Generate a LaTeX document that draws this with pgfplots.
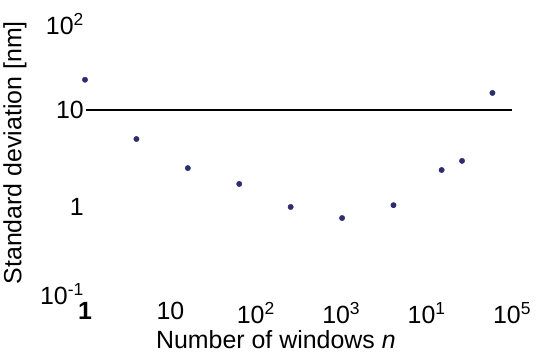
\documentclass[border=0pt]{standalone}
\usepackage{pgfplots}
\pgfplotsset{compat=1.18}
\usepackage{fontspec}
\setmainfont{Liberation Sans}
\definecolor{dotc}{RGB}{45,45,110}
\newcommand{\dn}[2]{\raisebox{-#1}[\height][\depth]{#2}}
\begin{document}
\begin{tikzpicture}
\path (0,0) rectangle (536bp,353bp);
\begin{axis}[
  at={(85bp,61bp)}, anchor=south west,
  scale only axis, width=427bp, height=273bp,
  xmode=log, ymode=log,
  xmin=1, xmax=1e5, ymin=0.1, ymax=100,
  axis line style={draw=none},
  major tick length=0pt, minor tick length=0pt,
  xtick={1,10,100,1000,10000,100000},
  xticklabels={\textbf{1},10,10\textsuperscript{2},10\textsuperscript{3},10\textsuperscript{1},10\textsuperscript{5}},
  ytick={0.1,1,10,100},
  yticklabels={\dn{2bp}{10\textsuperscript{-1}},\dn{6bp}{1},10,\dn{5bp}{10\textsuperscript{2}}},
  tick label style={font=\fontsize{25}{30}\selectfont},
  xticklabel style={inner sep=2pt, yshift=-8bp},
  yticklabel style={inner sep=1pt},
  label style={font=\fontsize{25}{30}\selectfont},
  xlabel={Number of windows \textit{n}},
  ylabel={Standard deviation [nm]},
  xlabel style={at={(axis description cs:0.447,-0.176)}, anchor=center},
  ylabel style={at={(axis description cs:-0.164,0.51)}, anchor=center},
  clip=false,
]
\addplot[black, line width=1.5bp] coordinates {(1.04,10) (100000,10)};
\addplot[only marks, mark=*, mark size=2.7bp, color=dotc] coordinates {
(1,21.5) (4,4.8) (16,2.3) (64,1.54) (256,0.86) (1024,0.65) (4096,0.90) (15000,2.19) (26000,2.76) (59000,15.4)
};
\end{axis}
\end{tikzpicture}
\end{document}
